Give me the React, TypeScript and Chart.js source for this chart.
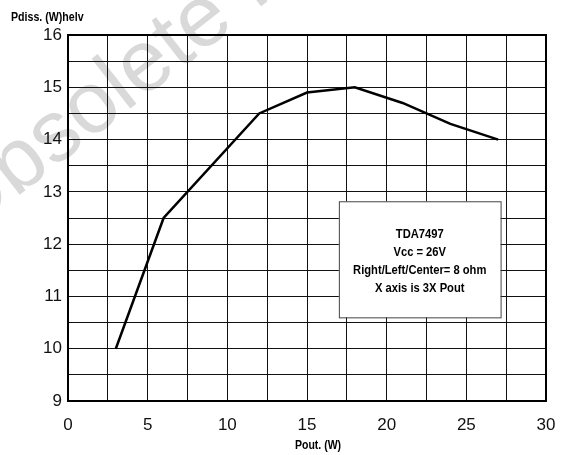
import React, { useEffect, useRef } from "react";
import { Chart, registerables } from "chart.js";

Chart.register(...registerables);

const poutW = [3, 6, 12, 15, 18, 21, 24, 27];
const pdissW = [10, 12.5, 14.5, 14.9, 15.0, 14.7, 14.3, 14.0];
const xTickLabels = [0, 5, 10, 15, 20, 25, 30];
const yTickLabels = [9, 10, 11, 12, 13, 14, 15, 16];
const noteLines = ["TDA7497", "Vcc = 26V", "Right/Left/Center= 8 ohm", "X axis is 3X Pout"];
const xTitle = "Pout. (W)";
const yTitle = "Pdiss. (W)helv";
const watermark = "Obsolete Product(s)";

const FONT = "'Liberation Sans', Arial, sans-serif";

function narrowText(ctx: CanvasRenderingContext2D, text: string, x: number, y: number, size: number, sx: number, align: CanvasTextAlign) {
  ctx.save();
  ctx.translate(x, y);
  ctx.scale(sx, 1);
  ctx.font = `bold ${size}px ${FONT}`;
  ctx.textAlign = align;
  ctx.textBaseline = "middle";
  ctx.fillStyle = "#000";
  ctx.fillText(text, 0, 0);
  ctx.restore();
}

const decorPlugin = {
  id: "decor",
  beforeDraw(chart: any) {
    const ctx: CanvasRenderingContext2D = chart.ctx;
    ctx.save();
    ctx.fillStyle = "#fff";
    ctx.fillRect(0, 0, chart.width, chart.height);
    ctx.translate(-38, 240);
    ctx.rotate((-38 * Math.PI) / 180);
    ctx.font = `87px ${FONT}`;
    ctx.fillStyle = "#d9d9d9";
    ctx.textBaseline = "alphabetic";
    ctx.fillText(watermark, 0, 0);
    ctx.restore();
  },
  afterDraw(chart: any) {
    const ctx: CanvasRenderingContext2D = chart.ctx;
    const a = chart.chartArea;
    const xs = chart.scales.x;
    const ys = chart.scales.y;
    ctx.save();
    ctx.strokeStyle = "#000";
    ctx.lineWidth = 2;
    ctx.strokeRect(a.left, a.top, a.right - a.left, a.bottom - a.top);
    // note box
    const bx0 = xs.getPixelForValue(17);
    const bx1 = xs.getPixelForValue(27.15);
    const by0 = ys.getPixelForValue(12.82);
    const by1 = ys.getPixelForValue(10.6);
    ctx.fillStyle = "#fff";
    ctx.fillRect(bx0, by0, bx1 - bx0, by1 - by0);
    ctx.strokeStyle = "#444";
    ctx.lineWidth = 1;
    ctx.strokeRect(bx0 + 0.5, by0 + 0.5, bx1 - bx0, by1 - by0);
    const cx = (bx0 + bx1) / 2;
    noteLines.forEach((t, i) => {
      narrowText(ctx, t, cx, by0 + 33 + i * 18, 13, 0.86, "center");
    });
    narrowText(ctx, xTitle, 318, 446, 12.5, 0.84, "center");
    narrowText(ctx, yTitle, 11, 18, 12.5, 0.85, "left");
    ctx.restore();
  },
};

export default function App() {
  const ref = useRef<HTMLCanvasElement | null>(null);
  useEffect(() => {
    document.body.style.margin = "0";
    const chart = new Chart(ref.current as HTMLCanvasElement, {
      type: "line",
      data: {
        datasets: [
          {
            data: poutW.map((x, i) => ({ x, y: pdissW[i] })),
            borderColor: "#000",
            borderWidth: 2.5,
            pointRadius: 0,
            tension: 0,
            fill: false,
          },
        ],
      },
      options: {
        animation: false,
        responsive: true,
        maintainAspectRatio: false,
        layout: { padding: { top: 35, right: 16, left: 0, bottom: 0 } },
        plugins: { legend: { display: false }, tooltip: { enabled: false } },
        scales: {
          x: {
            type: "linear",
            min: 0,
            max: 30,
            afterFit: (s: any) => {
              s.height = 54;
              s.paddingLeft = 0;
              s.paddingRight = 0;
            },
            ticks: {
              stepSize: 2.5,
              padding: 14,
              color: "#111",
              font: { family: FONT, size: 17 },
              maxRotation: 0,
              autoSkip: false,
              callback: (v: any) => (xTickLabels.includes(Number(v)) ? String(v) : ""),
            },
            grid: { color: "#111", lineWidth: 1, drawTicks: false },
            border: { color: "#000", width: 2 },
          },
          y: {
            type: "linear",
            min: 9,
            max: 16,
            afterFit: (s: any) => {
              s.width = 68;
              s.paddingTop = 0;
              s.paddingBottom = 0;
            },
            ticks: {
              stepSize: 0.5,
              padding: 6,
              color: "#111",
              font: { family: FONT, size: 17 },
              autoSkip: false,
              callback: (v: any) => (yTickLabels.includes(Number(v)) ? String(v) : ""),
            },
            grid: { color: "#111", lineWidth: 1, drawTicks: false },
            border: { color: "#000", width: 2 },
          },
        },
      },
      plugins: [decorPlugin],
    });
    return () => chart.destroy();
  }, []);
  return (
    <div style={{ position: "fixed", left: 0, top: 0, width: 562, height: 455 }}>
      <canvas ref={ref} />
    </div>
  );
}
